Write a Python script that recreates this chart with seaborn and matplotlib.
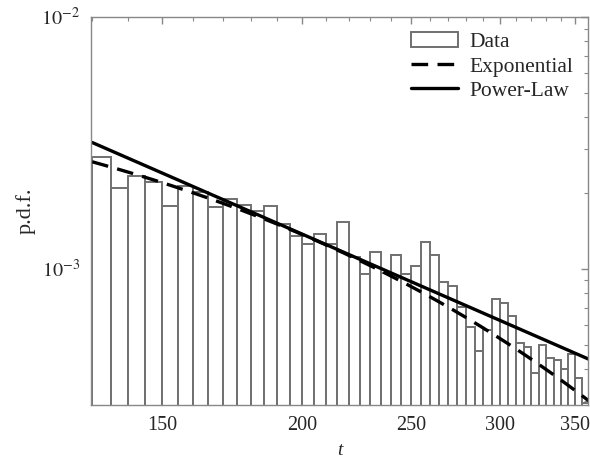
import seaborn as sns
import matplotlib.pyplot as plt
import numpy as np
from matplotlib.patches import Patch
from matplotlib.lines import Line2D
from matplotlib.ticker import FixedLocator, NullFormatter, FixedFormatter

# Histogram bins (t, width 5) and p.d.f. heights
bin_edges = [130, 135, 140, 145, 150, 155, 160, 165, 170, 175, 180, 185, 190, 195,
             200, 205, 210, 215, 220, 225, 230, 235, 240, 245, 250, 255, 260, 265,
             270, 275, 280, 285, 290, 295, 300, 305, 310, 315, 320, 325, 330, 335,
             340, 345, 350, 355, 360]
pdf_values = [2.78e-3, 2.09e-3, 2.34e-3, 2.22e-3, 1.77e-3, 2.14e-3, 2.01e-3, 1.76e-3,
              1.89e-3, 1.80e-3, 1.69e-3, 1.77e-3, 1.51e-3, 1.35e-3, 1.25e-3, 1.38e-3,
              1.25e-3, 1.53e-3, 1.11e-3, 0.955e-3, 1.17e-3, 0.96e-3, 1.14e-3, 0.955e-3,
              1.03e-3, 1.28e-3, 1.13e-3, 0.886e-3, 0.858e-3, 0.708e-3, 0.590e-3, 0.470e-3,
              0.573e-3, 0.760e-3, 0.731e-3, 0.651e-3, 0.507e-3, 0.489e-3, 0.386e-3, 0.499e-3,
              0.442e-3, 0.433e-3, 0.401e-3, 0.460e-3, 0.367e-3, 0.293e-3]
bin_centers = [e + 2.5 for e in bin_edges[:-1]]

# fitted models
exp_amp, exp_t0, exp_rate = 2.67e-3, 129.7, 0.0095
pl_amp, pl_t0, pl_alpha = 3.19e-3, 129.7, 1.945

x_ticks = [150, 200, 250, 300, 350]
x_minor = list(range(130, 361, 10))
y_ticks = [1e-3, 1e-2]
y_tick_labels = [r'$10^{-3}$', r'$10^{-2}$']
y_minor = [3e-4, 4e-4, 5e-4, 6e-4, 7e-4, 8e-4, 9e-4,
           2e-3, 3e-3, 4e-3, 5e-3, 6e-3, 7e-3, 8e-3, 9e-3]

sns.set_style('white')
plt.rcParams['font.family'] = ['Liberation Serif', 'DejaVu Serif']
plt.rcParams['mathtext.fontset'] = 'stix'

fig = plt.figure(figsize=(5.9, 4.62), dpi=100)
ax = fig.add_axes([0.1542, 0.1234, 0.8424, 0.8398])

sns.histplot(x=bin_centers, weights=pdf_values, bins=bin_edges, stat='count',
             color='white', edgecolor='#707070', linewidth=1.4, alpha=1, ax=ax)

t = np.linspace(bin_edges[0], bin_edges[-1], 200)
sns.lineplot(x=t, y=exp_amp * np.exp(-exp_rate * (t - exp_t0)), color='black',
             linewidth=2.4, ax=ax).lines[-1].set_dashes([5, 2.8])
sns.lineplot(x=t, y=pl_amp * (t / pl_t0) ** (-pl_alpha), color='black',
             linewidth=2.4, ax=ax)

ax.set_xscale('log')
ax.set_yscale('log')
ax.set_xlim(129.7, 359.5)
ax.set_ylim(2.88e-4, 1e-2)

ax.xaxis.set_major_locator(FixedLocator(x_ticks))
ax.xaxis.set_major_formatter(FixedFormatter([str(v) for v in x_ticks]))
ax.xaxis.set_minor_locator(FixedLocator(x_minor))
ax.xaxis.set_minor_formatter(NullFormatter())
ax.yaxis.set_major_locator(FixedLocator(y_ticks))
ax.yaxis.set_major_formatter(FixedFormatter(y_tick_labels))
ax.yaxis.set_minor_locator(FixedLocator(y_minor))
ax.yaxis.set_minor_formatter(NullFormatter())

ax.tick_params(which='both', direction='in', top=True, right=True, color='#888888',
               labelsize=14.5, pad=8)
ax.tick_params(which='major', length=5, width=1)
ax.tick_params(which='minor', length=3, width=0.8)
for s in ax.spines.values():
    s.set_color('#888888')
    s.set_linewidth(1.0)

ax.set_xlabel('t', fontsize=14, style='italic', labelpad=5)
ax.set_ylabel('p.d.f.', fontsize=16, labelpad=3.5)

handles = [Patch(facecolor='white', edgecolor='#707070', linewidth=1.4),
           Line2D([], [], color='black', linewidth=2.4, dashes=[5, 2.8]),
           Line2D([], [], color='black', linewidth=2.4)]
ax.legend(handles, ['Data', 'Exponential', 'Power-Law'], loc='upper right',
          frameon=False, fontsize=15.5, handlelength=2.2, handletextpad=0.5,
          labelspacing=0.2, borderaxespad=0.3)

fig.savefig('out.png', dpi=100)
